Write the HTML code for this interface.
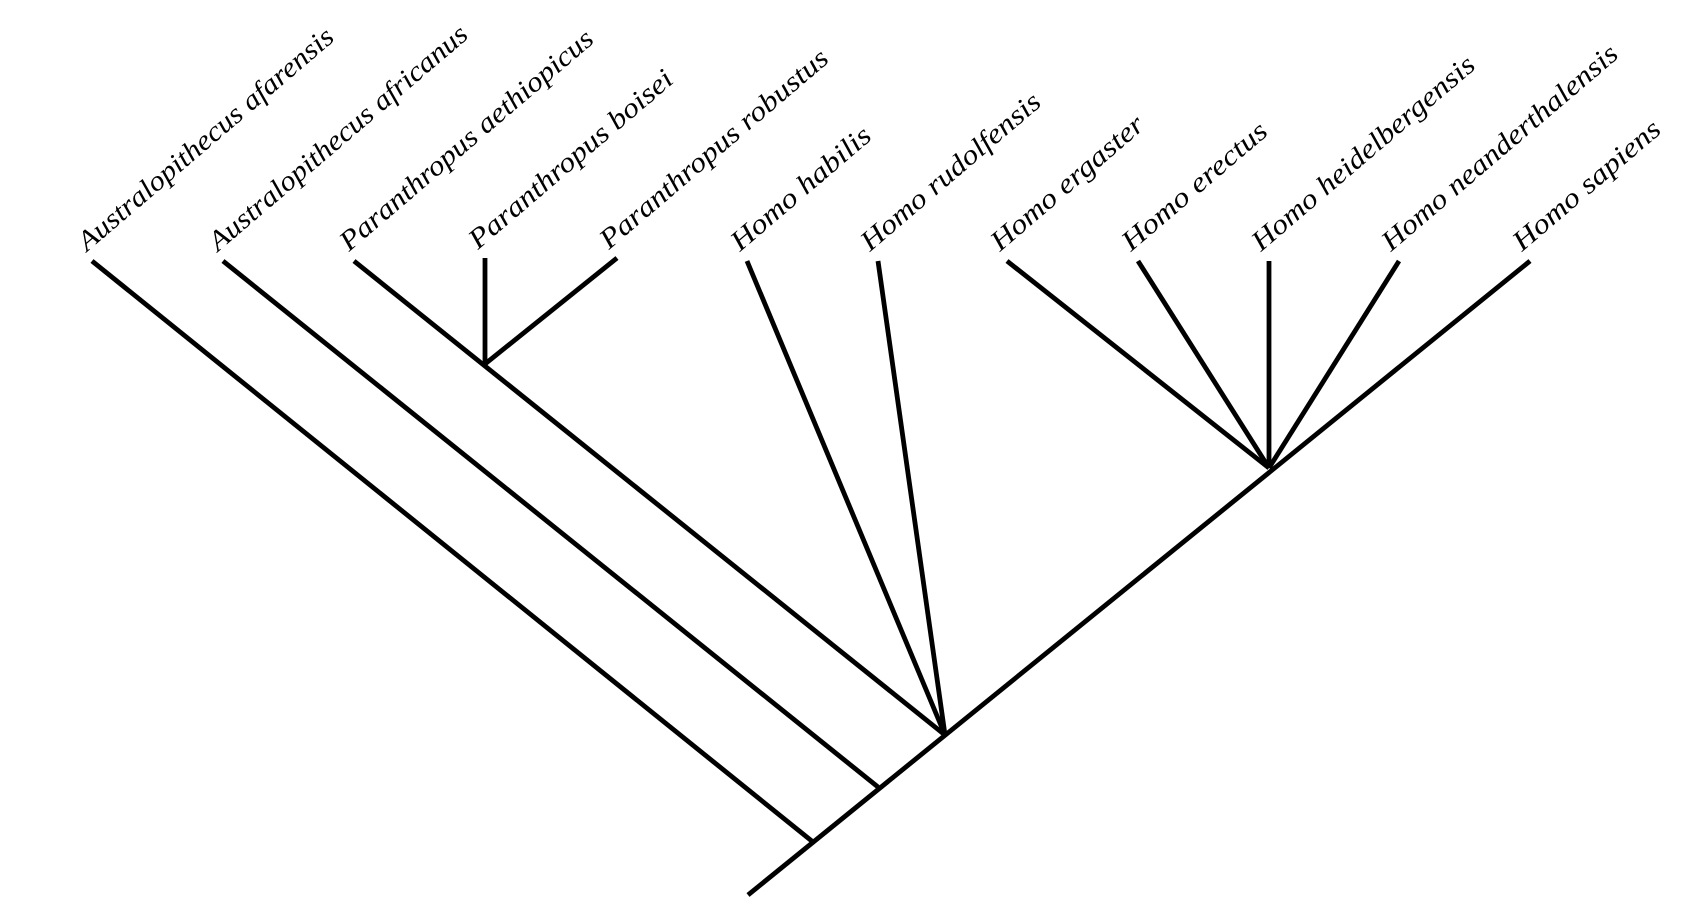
<!DOCTYPE html>
<html><head><meta charset="utf-8"><style>html,body{margin:0;padding:0;background:#fff;}svg{display:block}</style></head>
<body>
<svg width="1708" height="913" viewBox="0 0 1708 913" xmlns="http://www.w3.org/2000/svg">
<g stroke="#000" stroke-width="4.8" fill="none" stroke-linecap="butt">
<line x1="748" y1="895" x2="1530" y2="261"/>
<line x1="813" y1="842" x2="92" y2="261"/>
<line x1="878" y1="787" x2="223" y2="261"/>
<line x1="945" y1="735" x2="354" y2="261"/>
<line x1="485" y1="364" x2="485" y2="258"/>
<line x1="485" y1="364" x2="617" y2="258"/>
<line x1="945" y1="735" x2="747" y2="261"/>
<line x1="945" y1="735" x2="878" y2="261"/>
<line x1="1269" y1="468" x2="1007" y2="261"/>
<line x1="1269" y1="468" x2="1138" y2="261"/>
<line x1="1269" y1="468" x2="1269" y2="261"/>
<line x1="1269" y1="468" x2="1399" y2="261"/>
</g>
<g font-family="'Liberation Serif', serif" font-style="italic" font-size="28" fill="#000">
<text transform="translate(87,252) rotate(-40.5)" textLength="327" lengthAdjust="spacingAndGlyphs">Australopithecus afarensis</text>
<text transform="translate(218,252) rotate(-40.5)" textLength="331" lengthAdjust="spacingAndGlyphs">Australopithecus africanus</text>
<text transform="translate(349,252) rotate(-40.5)" textLength="324" lengthAdjust="spacingAndGlyphs">Paranthropus aethiopicus</text>
<text transform="translate(478,250) rotate(-40.5)" textLength="259" lengthAdjust="spacingAndGlyphs">Paranthropus boisei</text>
<text transform="translate(609,250) rotate(-40.5)" textLength="291" lengthAdjust="spacingAndGlyphs">Paranthropus robustus</text>
<text transform="translate(740,252) rotate(-40.5)" textLength="175" lengthAdjust="spacingAndGlyphs">Homo habilis</text>
<text transform="translate(870,252) rotate(-40.5)" textLength="227" lengthAdjust="spacingAndGlyphs">Homo rudolfensis</text>
<text transform="translate(1000,252) rotate(-40.5)" textLength="192" lengthAdjust="spacingAndGlyphs">Homo ergaster</text>
<text transform="translate(1131,252) rotate(-40.5)" textLength="182" lengthAdjust="spacingAndGlyphs">Homo erectus</text>
<text transform="translate(1261,252) rotate(-40.5)" textLength="284" lengthAdjust="spacingAndGlyphs">Homo heidelbergensis</text>
<text transform="translate(1391,252) rotate(-40.5)" textLength="301" lengthAdjust="spacingAndGlyphs">Homo neanderthalensis</text>
<text transform="translate(1522,252) rotate(-40.5)" textLength="185" lengthAdjust="spacingAndGlyphs">Homo sapiens</text>
</g>
</svg>
</body></html>
